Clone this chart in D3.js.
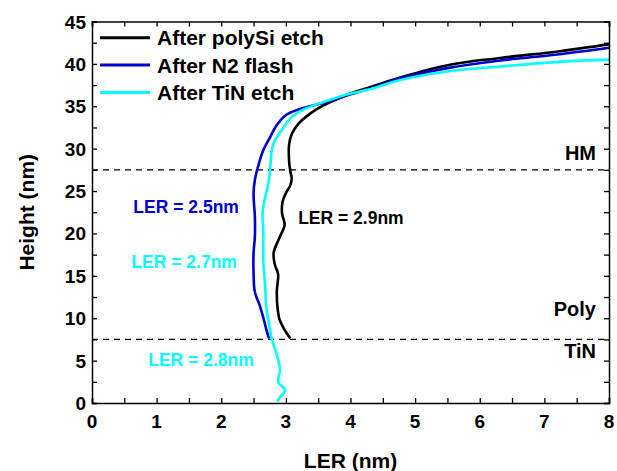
<!DOCTYPE html>
<html><head><meta charset="utf-8">
<script src="https://cdn.jsdelivr.net/npm/d3@7"></script>
<style>body{margin:0;background:#fff}svg{display:block}text{font-family:"Liberation Sans",Arial,sans-serif;font-weight:bold}</style>
</head><body>
<script>
// ---- data ----
const seriesNames = ["After polySi etch", "After N2 flash", "After TiN etch"];
const seriesColors = ["#000000", "#0000d0", "#00ffff"];
const polySiHeight = [7.6,8.9,9.9,11.3,13.2,15.2,16.3,17.7,19.5,21.0,22.4,23.8,24.9,25.7,26.5,27.3,28.5,30.5,31.7,32.9,34.1,35.1,35.8,36.5,37.2,38.4,39.9,40.7,41.5,42.3];
const polySiLER    = [3.07,2.96,2.90,2.87,2.86,2.88,2.83,2.81,2.90,2.98,2.94,2.95,3.01,3.07,3.09,3.07,3.05,3.05,3.09,3.19,3.37,3.58,3.78,4.0,4.28,4.77,5.54,6.32,7.24,8.0];
const n2Height = [7.6,8.6,9.8,11.4,13.1,15.3,17.7,19.6,22.0,24.7,26.3,27.9,29.8,31.4,32.8,34.0,34.8,35.5,36.3,37.1,38.3,39.5,40.4,41.1,41.9];
const n2LER    = [2.74,2.70,2.66,2.60,2.52,2.50,2.50,2.52,2.52,2.50,2.52,2.57,2.65,2.76,2.86,3.01,3.27,3.63,3.95,4.30,4.77,5.50,6.32,7.20,8.0];
const tinHeight = [0.15,0.7,1.5,2.5,3.9,5.1,6.4,7.6,9.8,11.0,13.7,16.9,20.0,22.4,24.3,25.9,27.9,29.8,31.0,32.2,33.6,34.6,35.5,36.3,37.0,38.1,39.1,39.7,40.3,40.5];
const tinLER    = [2.87,2.91,2.99,2.88,2.91,2.88,2.83,2.78,2.73,2.70,2.68,2.65,2.65,2.64,2.68,2.73,2.76,2.78,2.83,2.94,3.07,3.27,3.58,3.90,4.30,4.77,5.50,6.32,7.35,8.0];
const xTicks = [0,1,2,3,4,5,6,7,8];
const yTicks = [0,5,10,15,20,25,30,35,40,45];
const layerBounds = [27.5, 7.5];
const layerLabels = ["HM", "Poly", "TiN"];
const layerLabelHeights = [28.7, 10.3, 5.3];
const lerLabels = ["LER = 2.5nm", "LER = 2.7nm", "LER = 2.9nm", "LER = 2.8nm"];
const lerLabelColors = ["#0000d0", "#00ffff", "#000000", "#00ffff"];
const lerLabelPos = [[0.64, 22.4], [0.61, 15.9], [3.19, 21.1], [0.87, 4.4]];

const W = 617, H = 471;
const m = {left: 92, right: 8, top: 21.5, bottom: 68};
const svg = d3.select("body").append("svg").attr("width", W).attr("height", H);
const x = d3.scaleLinear().domain([0, 8]).range([m.left, W - m.right]);
const y = d3.scaleLinear().domain([0, 45]).range([H - m.bottom, m.top]);

svg.append("clipPath").attr("id","c").append("rect")
  .attr("x", x(0)).attr("y", y(45)).attr("width", x(8)-x(0)).attr("height", y(0)-y(45));

// dashed layer boundaries
svg.selectAll("line.dash").data(layerBounds).enter().append("line")
  .attr("x1", x(0)).attr("x2", x(8)).attr("y1", d => y(d)).attr("y2", d => y(d))
  .attr("stroke", "#000").attr("stroke-width", 1.3).attr("stroke-dasharray", "6,5");

// curves
const data = [
  polySiHeight.map((h,i)=>({h, v: polySiLER[i]})),
  n2Height.map((h,i)=>({h, v: n2LER[i]})),
  tinHeight.map((h,i)=>({h, v: tinLER[i]}))
];
const line = d3.line().x(d => x(d.v)).y(d => y(d.h)).curve(d3.curveCatmullRom.alpha(0.5));
const g = svg.append("g").attr("clip-path","url(#c)");
[0,1,2].forEach(i => {
  g.append("path").attr("d", line(data[i])).attr("fill","none")
    .attr("stroke", seriesColors[i]).attr("stroke-width", 2.6).attr("stroke-linejoin","round");
});

// axes
const tickFmt = d3.format("d");
const xMinor = d3.range(0, 8.01, 0.5);
const yMinor = d3.range(0, 45.01, 2.5);
const axB = svg.append("g").attr("transform", `translate(0,${y(0)})`)
  .call(d3.axisBottom(x).tickValues(xMinor).tickSize(-5).tickFormat(""));
const axT = svg.append("g").attr("transform", `translate(0,${y(45)})`)
  .call(d3.axisTop(x).tickValues(xMinor).tickSize(-5).tickFormat(""));
const axL = svg.append("g").attr("transform", `translate(${x(0)},0)`)
  .call(d3.axisLeft(y).tickValues(yMinor).tickSize(-5).tickFormat(""));
const axR = svg.append("g").attr("transform", `translate(${x(8)},0)`)
  .call(d3.axisRight(y).tickValues(yMinor).tickSize(-5).tickFormat(""));
[axB, axT, axL, axR].forEach(a => {
  a.select(".domain").attr("stroke","#000").attr("stroke-width",1.5);
  a.selectAll(".tick line").attr("stroke","#000").attr("stroke-width",1.3);
});
// tick labels
svg.selectAll("text.xl").data(xTicks).enter().append("text")
  .attr("x", d => x(d)).attr("y", y(0) + 25).attr("text-anchor","middle")
  .attr("font-size", 19).text(tickFmt);
svg.selectAll("text.yl").data(yTicks).enter().append("text")
  .attr("x", x(0) - 6).attr("y", d => y(d) + 7).attr("text-anchor","end")
  .attr("font-size", 19).text(tickFmt);

// axis titles
svg.append("text").attr("x", (x(0)+x(8))/2).attr("y", 468).attr("text-anchor","middle")
  .attr("font-size", 21).text("LER (nm)");
svg.append("text").attr("transform", `translate(34,${(y(0)+y(45))/2}) rotate(-90)`)
  .attr("text-anchor","middle").attr("font-size", 21).text("Height (nm)");

// legend
const legY = [37.7, 65, 92.5];
seriesNames.forEach((n,i) => {
  svg.append("line").attr("x1",100).attr("x2",150).attr("y1",legY[i]).attr("y2",legY[i])
    .attr("stroke", seriesColors[i]).attr("stroke-width", 3);
  svg.append("text").attr("x",157).attr("y",legY[i]+7.5).attr("font-size",21).text(n);
});

// layer labels
svg.selectAll("text.layer").data(layerLabels).enter().append("text")
  .attr("x", 596).attr("y", (d,i) => y(layerLabelHeights[i]) ).attr("text-anchor","end")
  .attr("font-size", 20).text(d => d);

// LER labels
svg.selectAll("text.ler").data(lerLabels).enter().append("text")
  .attr("x", (d,i) => x(lerLabelPos[i][0])).attr("y", (d,i) => y(lerLabelPos[i][1]))
  .attr("font-size", 17.5).attr("fill", (d,i) => lerLabelColors[i]).text(d => d);
</script>
</body></html>
